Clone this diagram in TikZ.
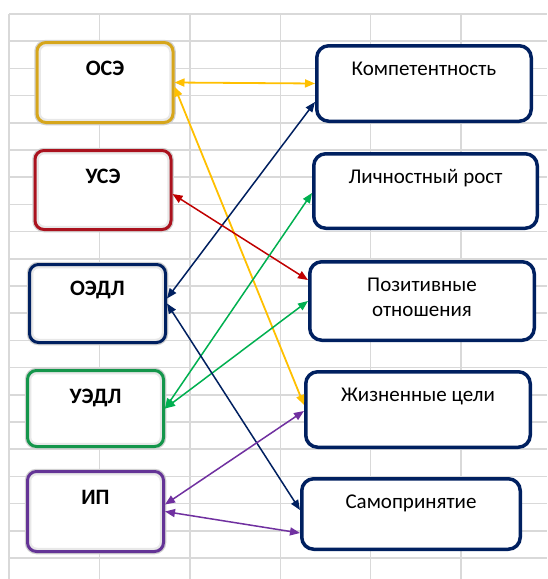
\documentclass[tikz,border=0pt]{standalone}
\usepackage{fontspec}
\setmainfont{Carlito}
\usepackage{tikz}
\usetikzlibrary{arrows.meta}
\usepackage{xcolor}
\definecolor{ColGold}{RGB}{214,166,28}
\definecolor{ColDarkRed}{RGB}{170,18,30}
\definecolor{ColNavy}{RGB}{0,32,96}
\definecolor{ColDarkGreen}{RGB}{20,150,75}
\definecolor{ColDarkPurple}{RGB}{100,52,150}
\definecolor{ColYellow}{RGB}{255,192,0}
\definecolor{ColRed}{RGB}{192,0,0}
\definecolor{ColGreen}{RGB}{0,176,80}
\definecolor{ColPurple}{RGB}{112,48,160}
\definecolor{ColGrid}{RGB}{217,217,217}
\tikzstyle{GridLine}=[ColGrid,line width=1.5pt]
\tikzstyle{LeftBox}=[rounded corners=9pt,fill=white,line width=3pt,inner sep=0pt,
minimum width=136pt,text height=33pt,font=\fontsize{22}{26}\selectfont\bfseries,
preaction={draw=black!18,line width=5.5pt},
path picture={\draw[black!9,line width=2.5pt,rounded corners=7pt]
([shift={(2.5pt,-2.5pt)}]path picture bounding box.north west)rectangle
([shift={(-2.5pt,2.5pt)}]path picture bounding box.south east);}]
\tikzstyle{RightBox}=[rounded corners=12pt,draw=ColNavy,fill=white,line width=3.5pt,
inner sep=0pt,text height=29.5pt,align=center,font=\fontsize{21}{25}\selectfont]
\tikzstyle{Link}=[line width=1.5pt,{Triangle[length=10pt,width=8pt]}-{Triangle[length=10pt,width=8pt]}]

\begin{document}
\begin{tikzpicture}[x=1pt,y=-1pt]
        \fill[white](0,0)rectangle(547,579);
        \useasboundingbox(0,0)rectangle(547,579);
        % spreadsheet grid
        \foreach \x in {9,99.5,190,280.5,370.5,461}
            \draw[GridLine](\x,14)--(\x,579);
        \foreach \i in {0,...,20}
            \draw[GridLine](9,14+27.2*\i)--(547,14+27.2*\i);
        % left boxes
        \node[LeftBox,draw=ColGold,text depth=47pt](ose)at(105,82.5){ОСЭ};
        \node[LeftBox,draw=ColDarkRed,text depth=46pt](use)at(103,190){УСЭ};
        \node[LeftBox,draw=ColNavy,text height=31pt,text depth=47pt](oedl)at(97.5,303.5){ОЭДЛ};
        \node[LeftBox,draw=ColDarkGreen,text depth=43pt](uedl)at(95.5,408.5){УЭДЛ};
        \node[LeftBox,draw=ColDarkPurple,text depth=47pt](ip)at(95.5,511.5){ИП};
        % right boxes
        \node[RightBox,minimum width=214.5pt,text depth=46pt](komp)at(424,83.5){Компетентность};
        \node[RightBox,minimum width=223.5pt,text depth=45pt](lich)at(425.5,191){Личностный рост};
        \node[RightBox,minimum width=224.5pt,text height=54.5pt,text depth=24pt](poz)at(422,301){Позитивные\\отношения};
        \node[RightBox,minimum width=224.5pt,text depth=46pt](zhiz)at(418,409.5){Жизненные цели};
        \node[RightBox,minimum width=218.5pt,text depth=41pt](samo)at(411,514){Самопринятие};
        % links
        \draw[Link,ColYellow,line width=1.8pt](ose.east)--(komp.west);
        \draw[Link,ColYellow,line width=1.8pt]([yshift=-4pt]ose.east)--([yshift=4.5pt]zhiz.west);
        \draw[Link,ColNavy]([yshift=5pt]oedl.east)--([yshift=-18.5pt]komp.west);
        \draw[Link,ColRed]([yshift=-4pt]use.east)--([yshift=21pt]poz.west);
        \draw[Link,ColGreen](uedl.east)--([yshift=-2pt]lich.west);
        \draw[Link,ColGreen](uedl.east)--(poz.west);
        \draw[Link,ColNavy](oedl.east)--([yshift=4pt]samo.west);
        \draw[Link,ColPurple]([yshift=7pt]ip.east)--([yshift=-1.5pt]zhiz.west);
        \draw[Link,ColPurple](ip.east)--([yshift=-19pt]samo.west);
    \end{tikzpicture}
\end{document}
